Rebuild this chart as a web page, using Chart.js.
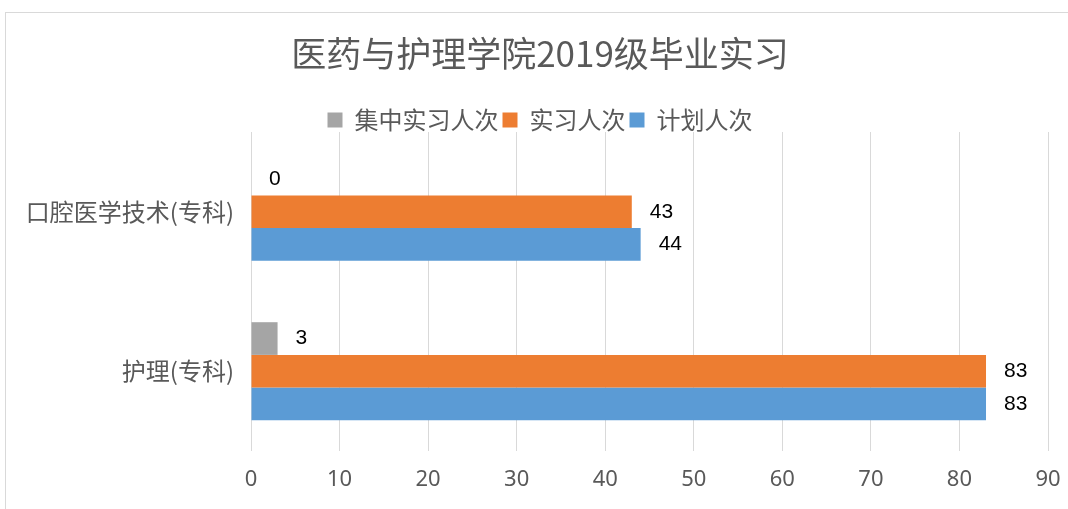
<!DOCTYPE html>
<html>
<head>
<meta charset="utf-8">
<script src="https://cdn.jsdelivr.net/npm/chart.js@4"></script>
<style>
  body { margin: 0; background: #fff; overflow: hidden; }
  #frame { position: absolute; left: 5px; top: 12px; width: 1100px; height: 540px; border: 1px solid #d9d9d9; }
  #canvas-1 { position: absolute; left: 0; top: 0; }
</style>
</head>
<body>
<div id="frame"></div>
<canvas id="canvas-1" width="1068" height="509"></canvas>
<script>
var categories = ['口腔医学技术(专科)', '护理(专科)'];
var seriesNames = ['集中实习人次', '实习人次', '计划人次'];
var centralCount = [0, 3];
var internCount = [43, 83];
var planCount = [44, 83];
var xMin = 0, xMax = 90, xStep = 10;

var grey = '#595959';

// value labels to the right of each bar
var barLabels = {
    id: 'barLabels',
    afterDatasetsDraw: function(chart) {
        var ctx = chart.ctx;
        ctx.save();
        ctx.font = '21px "Liberation Sans", Arial, sans-serif';
        ctx.fillStyle = '#000';
        ctx.textAlign = 'left';
        ctx.textBaseline = 'middle';
        chart.data.datasets.forEach(function(ds, i) {
            chart.getDatasetMeta(i).data.forEach(function(bar, j) {
                ctx.fillText(ds.data[j], bar.x + 18, bar.y);
            });
        });
        ctx.restore();
    }
};

// pull the plot area up closer to the legend
var legendTight = {
    id: 'legendTight',
    beforeLayout: function(chart) {
        var lg = chart.legend;
        if (lg && !lg._tight) {
            var fit = lg.fit;
            lg.fit = function() {
                fit.call(this);
                this.height -= 10;
            };
            lg._tight = true;
        }
    }
};

var barChart = new Chart(document.getElementById('canvas-1'), {
    type: 'bar',
    data: {
        labels: categories,
        datasets: [{
            label: seriesNames[0],
            data: centralCount,
            backgroundColor: '#A5A5A5'
        }, {
            label: seriesNames[1],
            data: internCount,
            backgroundColor: '#ED7D31'
        }, {
            label: seriesNames[2],
            data: planCount,
            backgroundColor: '#5B9BD5'
        }]
    },
    options: {
        indexAxis: 'y',
        responsive: false,
        animation: false,
        categoryPercentage: 0.615,
        barPercentage: 1,
        layout: { padding: { left: 22, right: 10, top: 0, bottom: 0 } },
        plugins: {
            title: {
                display: true,
                text: '医药与护理学院2019级毕业实习',
                color: grey,
                font: { family: '"Noto Sans CJK SC", sans-serif', size: 35, weight: 'normal' },
                padding: { top: 33, bottom: 29 }
            },
            legend: {
                display: true,
                labels: {
                    color: grey,
                    boxWidth: 15,
                    boxHeight: 15,
                    padding: 4,
                    font: { family: '"Noto Sans CJK SC", sans-serif', size: 24 }
                }
            },
            tooltip: { enabled: false }
        },
        scales: {
            x: {
                min: xMin,
                max: xMax,
                ticks: {
                    stepSize: xStep,
                    color: grey,
                    padding: 16,
                    font: { family: '"Noto Sans", sans-serif', size: 22 }
                },
                grid: { color: '#d9d9d9', drawTicks: false },
                border: { display: false },
                afterFit: function(scale) {
                    scale.height = 58;
                    scale.paddingLeft = 0;
                    scale.paddingRight = 20;
                }
            },
            y: {
                ticks: {
                    color: grey,
                    padding: 17,
                    font: { family: '"Noto Sans CJK SC", sans-serif', size: 24 }
                },
                grid: { display: false, drawTicks: false },
                border: { display: false },
                afterFit: function(scale) { scale.width = 229; }
            }
        }
    },
    plugins: [barLabels, legendTight]
});
</script>
</body>
</html>
